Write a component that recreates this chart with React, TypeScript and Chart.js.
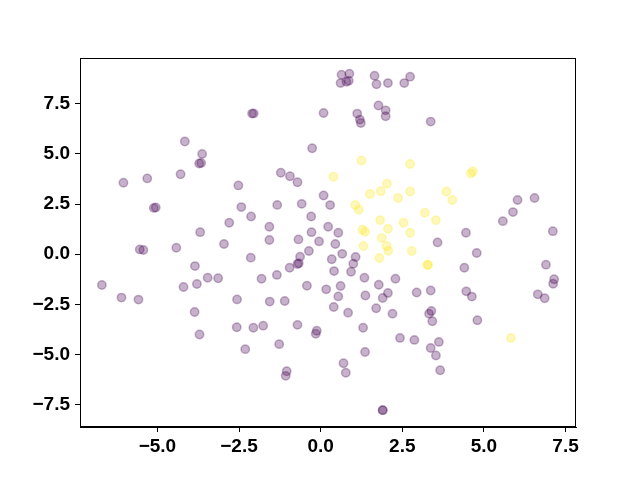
import React, { useEffect, useRef } from "react";
import { Chart, registerables } from "chart.js";

Chart.register(...registerables);

const purpleX = [
  -4.16, -3.63, -3.72, -3.66, -4.29, -5.31, -6.04, -5.11, -5.05, -3.69,
  -2.10, -2.05, 0.09, -0.26, -1.22, -0.94, -0.71, -2.52, 0.09, 0.29,
  -2.43, -1.33, -0.58, -2.13, -0.29, -2.80, -1.57, 0.23, -0.28, -2.96,
  -1.57, -0.68, -0.05, 0.64, 0.88, 0.61, 0.79, 0.86, 1.65, 1.71,
  2.06, 2.56, 2.74, 1.12, 1.20, 1.23, 1.77, 1.99, 1.99, 3.37,
  0.54, 0.45, 3.58, 6.03, 6.55, 5.89, 5.58, 4.45, 7.11, -5.54,
  -5.43, -4.42, -3.85, -6.70, -6.10, -5.58, -4.20, -3.79, -3.46, -3.14,
  -3.86, -3.71, -2.14, -1.81, -1.34, -0.95, -0.71, -0.67, -0.63, -0.36,
  0.34, -0.42, 0.17, -2.56, -1.56, -1.10, -2.57, -2.06, -1.76, -0.71,
  -0.12, -0.15, -2.31, -1.27, -1.04, -1.07, 0.66, 1.07, 1.00, 0.41,
  0.93, 1.34, 2.29, 0.61, 1.78, 0.54, 1.37, 2.06, 1.90, 2.94,
  3.37, 0.40, 0.84, 1.70, 2.20, 3.32, 3.39, 3.42, 1.30, 2.43,
  2.87, 3.62, 3.37, 3.53, 3.66, 1.36, 0.70, 0.77, 1.90, 1.90,
  4.78, 4.40, 4.46, 4.63, 4.80, 6.90, 7.15, 7.12, 6.65, 6.86,
];
const purpleY = [
  5.62, 5.00, 4.52, 4.55, 3.99, 3.78, 3.56, 2.31, 2.33, 1.10,
  7.01, 7.02, 7.04, 5.28, 4.06, 3.89, 3.59, 3.43, 2.93, 2.45,
  2.35, 2.46, 2.51, 1.88, 1.88, 1.57, 1.37, 1.37, 1.10, 0.51,
  0.71, 0.74, 0.64, 8.95, 9.00, 8.53, 8.60, 8.65, 8.90, 8.47,
  8.53, 8.53, 8.85, 7.01, 6.71, 6.54, 7.41, 7.17, 6.88, 6.61,
  1.07, 0.51, 0.59, 2.70, 2.80, 2.10, 1.65, 1.07, 1.15, 0.24,
  0.21, 0.32, -0.59, -1.53, -2.16, -2.26, -1.63, -1.48, -1.17, -1.20,
  -2.88, -4.00, -0.17, -1.22, -1.03, -0.67, -0.49, -0.45, -0.12, 0.16,
  -0.25, -1.57, -1.75, -2.25, -2.36, -2.33, -3.64, -3.66, -3.56, -3.52,
  -3.81, -3.96, -4.73, -4.48, -5.83, -6.06, 0.02, -0.14, -0.47, -0.84,
  -0.87, -1.17, -1.22, -1.58, -1.52, -2.10, -2.06, -1.93, -2.18, -1.91,
  -1.81, -2.63, -2.91, -2.69, -2.96, -2.96, -2.83, -3.34, -3.66, -4.17,
  -4.27, -4.37, -4.67, -5.05, -5.78, -4.87, -5.43, -5.91, -7.77, -7.77,
  0.06, -0.67, -1.85, -2.11, -3.29, -0.52, -1.25, -1.47, -2.00, -2.19,
];

const yellowX = [
  1.25, 2.74, 0.39, 2.03, 1.51, 1.84, 2.74, 2.37, 3.85, 4.03,
  1.06, 1.17, 3.19, 3.53, 1.82, 2.54, 2.06, 1.28, 1.36, 2.74,
  1.87, 1.31, 2.02, 2.07, 1.80, 2.79, 3.27, 3.29, 4.60, 4.66, 5.83,
];
const yellowY = [
  4.67, 4.50, 3.86, 3.51, 3.00, 3.14, 3.13, 2.80, 3.13, 2.70,
  2.46, 2.22, 2.07, 1.70, 1.70, 1.57, 1.27, 1.22, 1.12, 1.07,
  0.81, 0.41, 0.41, 0.17, -0.19, 0.16, -0.54, -0.52, 4.02, 4.12, -4.17,
];

const xTicks = [-5, -2.5, 0, 2.5, 5, 7.5];
const yTicks = [-7.5, -5, -2.5, 0, 2.5, 5, 7.5];

const X_MIN = -7.37;
const X_MAX = 7.82;
const Y_MIN = -8.61;
const Y_MAX = 9.78;

const PURPLE = "rgba(68,1,84,0.3)";
const YELLOW = "rgba(253,231,37,0.3)";

const fmt = (v: number) => v.toFixed(1).replace("-", "\u2212");

const framePlugin = {
  id: "frame",
  afterDraw(chart: any) {
    const { ctx, chartArea } = chart;
    ctx.save();
    ctx.strokeStyle = "#000";
    ctx.lineWidth = 1;
    ctx.strokeRect(
      Math.round(chartArea.left) + 0.5,
      Math.round(chartArea.top) + 0.5,
      Math.round(chartArea.right - chartArea.left) - 1,
      Math.round(chartArea.bottom - chartArea.top) - 1
    );
    ctx.restore();
  },
};

export default function App() {
  const ref = useRef<HTMLCanvasElement | null>(null);

  useEffect(() => {
    if (!ref.current) return;
    const toPts = (xs: number[], ys: number[]) => xs.map((x, i) => ({ x, y: ys[i] }));
    const font = { family: "'Liberation Sans', Arial, sans-serif", size: 19, weight: "bold" as const };
    const chart = new Chart(ref.current, {
      type: "scatter",
      data: {
        datasets: [
          {
            data: toPts(purpleX, purpleY),
            backgroundColor: PURPLE,
            borderColor: PURPLE,
            borderWidth: 1.5,
            pointRadius: 4.2,
          },
          {
            data: toPts(yellowX, yellowY),
            backgroundColor: YELLOW,
            borderColor: YELLOW,
            borderWidth: 1.5,
            pointRadius: 4.2,
          },
        ],
      },
      options: {
        animation: false,
        responsive: false,
        devicePixelRatio: 1,
        layout: { padding: { top: 58, right: 64, left: 0, bottom: 0 } },
        plugins: { legend: { display: false }, tooltip: { enabled: false } },
        scales: {
          x: {
            type: "linear",
            min: X_MIN,
            max: X_MAX,
            afterBuildTicks: (s: any) => {
              s.ticks = xTicks.map((v) => ({ value: v }));
            },
            afterFit: (s: any) => {
              s.height = 53;
            },
            ticks: {
              color: "#000",
              font,
              padding: 3,
              maxRotation: 0,
              autoSkip: false,
              callback: (v: any) => fmt(Number(v)),
            },
            grid: {
              drawOnChartArea: false,
              drawTicks: true,
              tickLength: 5,
              color: "#000",
              tickColor: "#000",
            },
            border: { display: true, color: "#000", width: 1 },
          },
          y: {
            type: "linear",
            min: Y_MIN,
            max: Y_MAX,
            afterBuildTicks: (s: any) => {
              s.ticks = yTicks.map((v) => ({ value: v }));
            },
            afterFit: (s: any) => {
              s.width = 80;
            },
            ticks: {
              color: "#000",
              font,
              padding: 5,
              autoSkip: false,
              callback: (v: any) => fmt(Number(v)),
            },
            grid: {
              drawOnChartArea: false,
              drawTicks: true,
              tickLength: 5,
              color: "#000",
              tickColor: "#000",
            },
            border: { display: true, color: "#000", width: 1 },
          },
        },
      },
      plugins: [framePlugin],
    });
    return () => chart.destroy();
  }, []);

  return (
    <div style={{ position: "absolute", left: 0, top: 0, width: 640, height: 480, background: "#fff" }}>
      <canvas ref={ref} width={640} height={480} style={{ display: "block", width: 640, height: 480 }} />
    </div>
  );
}
